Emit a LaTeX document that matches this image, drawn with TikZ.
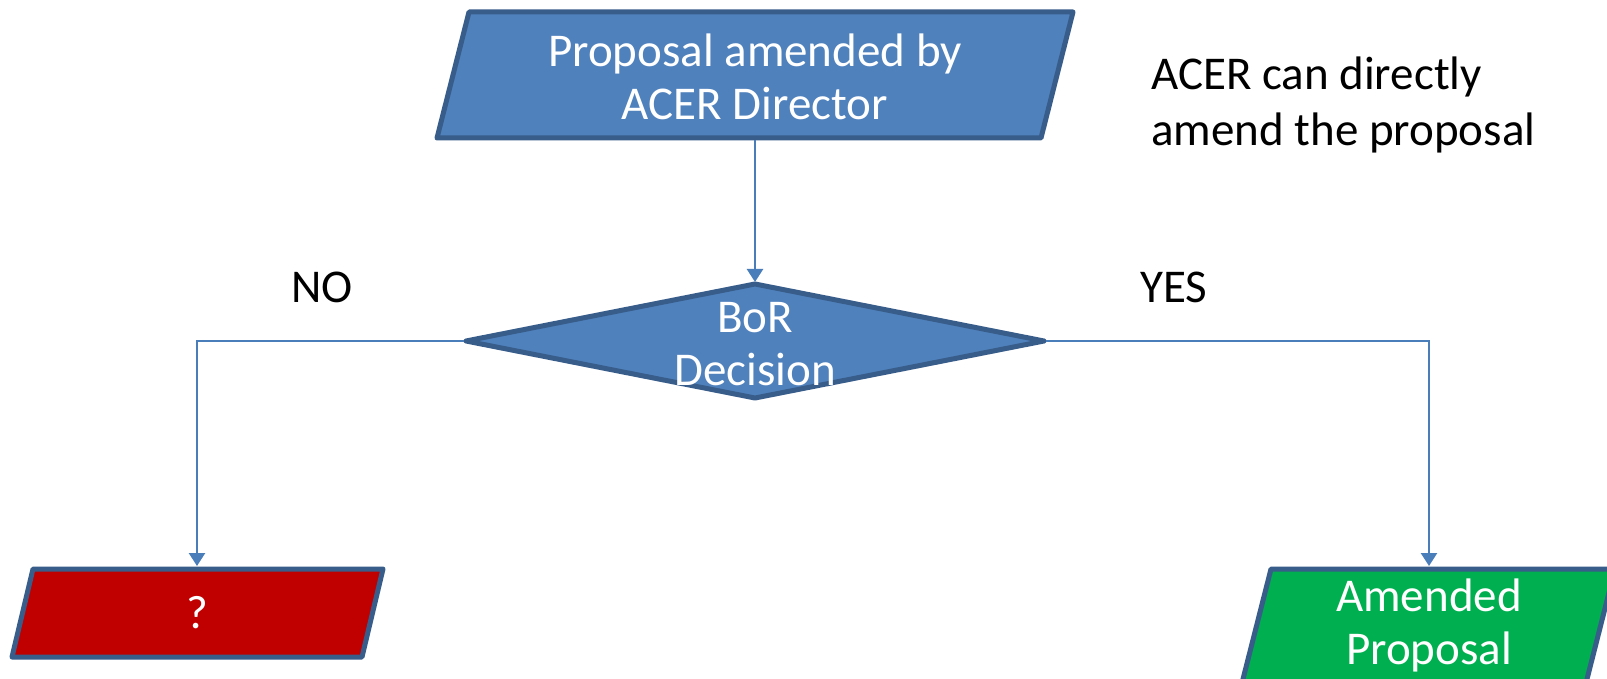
\documentclass[tikz,border=0pt]{standalone}
\usepackage{fontspec}
\setmainfont{Carlito}
\usetikzlibrary{arrows.meta}
\definecolor{boxblue}{HTML}{4F81BD}
\definecolor{edgeblue}{HTML}{385D8A}
\definecolor{lineblue}{HTML}{4A7EBB}
\definecolor{boxred}{HTML}{C00000}
\definecolor{boxgreen}{HTML}{00B050}
\begin{document}
\begin{tikzpicture}[x=1pt,y=-1pt,
  shapebox/.style={draw=edgeblue, line width=5pt, line join=round},
  lbl/.style={font=\fontsize{47}{53}\selectfont, align=center, inner sep=0pt},
  wlbl/.style={lbl, text=white},
  conn/.style={draw=lineblue, line width=2.5pt, -{Triangle[length=13pt,width=16pt]}}]
\clip (0,0) rectangle (1607,679);
\fill[white] (0,0) rectangle (1607,679);
% top box
\draw[shapebox, fill=boxblue] (469,12) -- (1073,12) -- (1041,138) -- (437,138) -- cycle;
\node[wlbl] (top) at (755,77) {Proposal amended by\\ACER Director};
% diamond
\draw[shapebox, fill=boxblue] (755,284) -- (1044,341) -- (755,398) -- (466,341) -- cycle;
\node[wlbl] (dec) at (755,344) {BoR\\Decision};
% red box
\draw[shapebox, fill=boxred] (33,569) -- (383,569) -- (362,657) -- (12,657) -- cycle;
\node[wlbl] (q) at (197,613) {?};
% green box
\draw[shapebox, fill=boxgreen] (1271,569) -- (1615,569) -- (1586,683) -- (1242,683) -- cycle;
\node[wlbl] (amd) at (1429,625) {Amended\\Proposal};
% connection points
\coordinate (topS) at (755,140);
\coordinate (decN) at (755,282);
\coordinate (decW) at (464,341);
\coordinate (decE) at (1046,341);
\coordinate (redN) at (197,566);
\coordinate (greenN) at (1429,566);
% connectors
\draw[conn] (topS) -- (decN);
\draw[conn] (decW) -| (redN);
\draw[conn] (decE) -| (greenN);
% labels
\node[lbl] (no) at (322,287) {NO};
\node[lbl] (yes) at (1174,287) {YES};
\node[lbl, align=left, anchor=west, font=\fontsize{47}{56}\selectfont] (note) at (1151,105) {ACER can directly\\amend the proposal};
\end{tikzpicture}
\end{document}
